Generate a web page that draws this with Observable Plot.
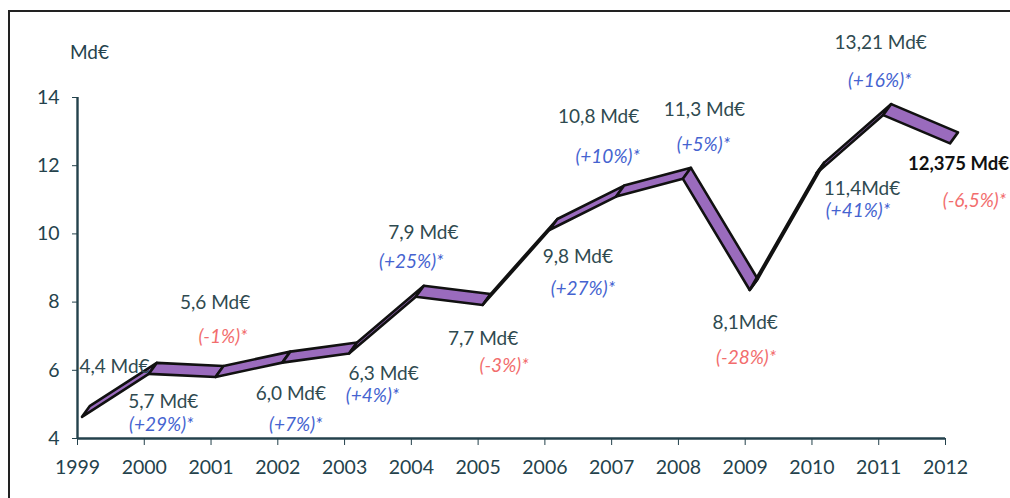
<!DOCTYPE html>
<html>
<head>
<meta charset="utf-8">
<script src="https://cdn.jsdelivr.net/npm/d3@7"></script>
<script src="https://cdn.jsdelivr.net/npm/@observablehq/plot@0.6"></script>
<style>
  html, body { margin: 0; padding: 0; background: #fff; overflow: hidden; }
  #wrap { position: relative; width: 1010px; height: 498px; overflow: hidden; }
  #frame { position: absolute; left: 8px; top: 10px; width: 1100px; height: 600px;
           border-left: 2px solid #222; border-top: 2px solid #222; pointer-events: none; }
  #chart { position: absolute; left: 0; top: 0; }
</style>
</head>
<body>
<div id="wrap"><div id="chart"></div><div id="frame"></div></div>
<script>
// ---- data ----
const years = [1999, 2000, 2001, 2002, 2003, 2004, 2005, 2006, 2007, 2008, 2009, 2010, 2011, 2012];
const values = [4.62, 5.88, 5.79, 6.21, 6.48, 8.14, 7.90, 10.10, 11.08, 11.6, 8.34, 11.76, 13.47, 12.64];
const amountLabels = ["4,4 Md€", "5,7 Md€", "5,6 Md€", "6,0 Md€", "6,3 Md€", "7,9 Md€", "7,7 Md€",
  "9,8 Md€", "10,8 Md€", "11,3 Md€", "8,1Md€", "11,4Md€", "13,21 Md€", "12,375 Md€"];
const changeLabels = [null, "(+29%)*", "(-1%)*", "(+7%)*", "(+4%)*", "(+25%)*", "(-3%)*",
  "(+27%)*", "(+10%)*", "(+5%)*", "(-28%)*", "(+41%)*", "(+16%)*", "(-6,5%)*"];
const yTicks = [4, 6, 8, 10, 12, 14];
const unitLabel = "Md€";

// ---- layout (label offsets from each point, in pixels) ----
const amountDx = [37, 19, 4, 13, 39, 12, 5, 33, -13, 26, 0, 50, 2, 13];
const amountDy = [-50, 28, -75, 31, 20, -64, 33, 26, -80, -69, 32, 15, -73, 20];
const changeDx = [0, 17, 12, 18, 28, 0, 26, 38, -4, 25, 1, 46, 1, 29];
const changeDy = [0, 51, -41, 62, 42, -35, 60, 58, -40, -34, 67, 37, -35, 57];

const data = years.map((year, i) => ({year, value: values[i], amount: amountLabels[i], change: changeLabels[i]}));

const ink = "#24424c";
const font = "Lato, 'Open Sans', sans-serif";

function ribbon(index, scales, channels) {
  const X = channels.x, Y = channels.y;
  const g = d3.create("svg:g");
  const fx = 5, fy = 0, bx = 13, by = -11;
  for (let k = 0; k < index.length - 1; k++) {
    const i = index[k], j = index[k + 1];
    const pts = [[X[i] + fx, Y[i] + fy], [X[j] + fx, Y[j] + fy], [X[j] + bx, Y[j] + by], [X[i] + bx, Y[i] + by]];
    g.append("polygon")
      .attr("points", pts.map(p => p.join(",")).join(" "))
      .attr("fill", "#9a6bbd")
      .attr("stroke", "#111")
      .attr("stroke-width", 2.6)
      .attr("stroke-linejoin", "round");
  }
  return g.node();
}

const marks = [
  Plot.ruleY([4], {stroke: ink, strokeWidth: 2.4}),
  Plot.ruleX([1999], {stroke: ink, strokeWidth: 2.4}),
  Plot.axisY({ticks: yTicks, tickSize: 5, tickPadding: 13, stroke: ink, fill: ink, fontSize: 19.5, label: null}),
  Plot.axisX({ticks: years, tickSize: 7, tickPadding: 15, tickFormat: d => String(d), stroke: ink, fill: ink, fontSize: 19.5, label: null}),
  Plot.text([unitLabel], {frameAnchor: "top-left", dx: 12, dy: -52, fill: ink, fontSize: 19, textAnchor: "middle"}),
  Plot.line(data, {x: "year", y: "value", render: ribbon})
];

data.forEach((d, i) => {
  const last = i === data.length - 1;
  marks.push(Plot.text([d], {x: "year", y: "value", text: "amount", dx: amountDx[i], dy: amountDy[i],
    fill: last ? "#111" : "#2f4a50", fontWeight: last ? "bold" : "normal", fontSize: last ? 18.5 : 19, textAnchor: "middle"}));
  if (d.change) {
    const neg = d.change.startsWith("(-");
    marks.push(Plot.text([d], {x: "year", y: "value", text: "change", dx: changeDx[i], dy: changeDy[i],
      fill: neg ? "#f26d6d" : "#4563d0", fontStyle: "italic", fontSize: 19, textAnchor: "middle"}));
  }
});

const chart = Plot.plot({
  width: 1010,
  height: 498,
  marginLeft: 77,
  marginRight: 65,
  marginTop: 97,
  marginBottom: 60,
  style: {fontFamily: font, background: "transparent", overflow: "visible"},
  x: {domain: [1999, 2012]},
  y: {domain: [4, 14]},
  marks
});
document.getElementById("chart").appendChild(chart);
</script>
</body>
</html>
